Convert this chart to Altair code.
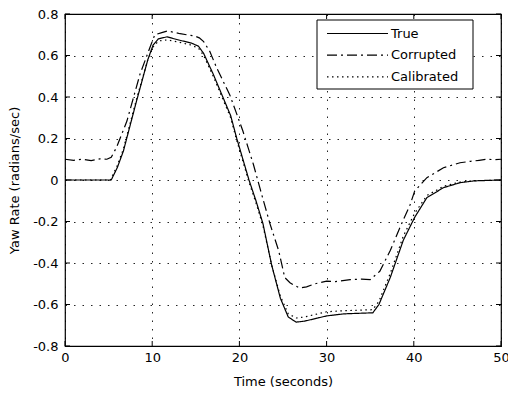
import altair as alt
import pandas as pd

# ---- data ----
true_t = [0, 5.3, 6.0, 6.7, 8.2, 9.5, 10.1, 10.7, 11.7, 13.0, 14.5, 15.3, 15.9, 17.0, 18.1, 19.0,
          19.7, 20.4, 21.1, 21.9, 22.7, 23.7, 24.7, 25.6, 26.5, 27.5, 29.0, 30.0, 32.0, 35.3,
          36.0, 37.3, 38.8, 40.1, 41.5, 43.4, 45.3, 47.0, 50]
true_v = [0, 0, 0.06, 0.14, 0.38, 0.58, 0.65, 0.68, 0.69, 0.675, 0.66, 0.645, 0.61, 0.51, 0.40, 0.31,
          0.20, 0.10, 0.0, -0.10, -0.21, -0.41, -0.57, -0.66, -0.685, -0.68, -0.665, -0.655, -0.645, -0.64,
          -0.60, -0.47, -0.29, -0.18, -0.085, -0.037, -0.013, -0.004, 0]

corr_t = [0, 1, 2, 3, 4, 4.8, 5.3, 5.9, 7.1, 8.6, 9.75, 10.3, 11.1, 11.7, 12.5, 13.2, 13.95, 14.8,
          15.4, 15.9, 16.6, 17.4, 18.9, 20.4, 21.0, 21.6, 22.55, 23.5, 24.5, 25.2, 25.8, 26.2, 26.9,
          27.7, 28.7, 30, 31, 32.7, 34, 35, 36.1, 37.3, 38.4, 39.6, 40.1, 41.5, 43.4, 45.3, 46.5,
          47.5, 48.4, 49.2, 50]
corr_v = [0.10, 0.095, 0.10, 0.093, 0.102, 0.10, 0.11, 0.156, 0.284, 0.51, 0.64, 0.70, 0.71, 0.718,
          0.712, 0.705, 0.70, 0.695, 0.685, 0.667, 0.62, 0.54, 0.41, 0.236, 0.156, 0.076, -0.069,
          -0.21, -0.34, -0.47, -0.495, -0.505, -0.52, -0.515, -0.50, -0.487, -0.49, -0.48, -0.478,
          -0.48, -0.44, -0.34, -0.23, -0.117, -0.053, 0.011, 0.059, 0.083, 0.09, 0.095, 0.1, 0.098, 0.1]

cal_t = [0, 5.2, 6.0, 6.7, 8.2, 9.5, 10.1, 10.7, 11.7, 13.0, 14.5, 15.3, 15.9, 17.0, 18.1, 19.0,
         19.7, 20.4, 21.1, 21.9, 22.7, 23.7, 24.7, 25.6, 26.5, 27.5, 29.0, 30.0, 32.0, 35.3,
         36.0, 37.3, 38.8, 40.1, 41.5, 43.4, 45.3, 47.0, 50]
cal_v = [0, 0, 0.07, 0.15, 0.39, 0.58, 0.64, 0.67, 0.675, 0.665, 0.65, 0.635, 0.60, 0.50, 0.39, 0.30,
         0.19, 0.09, -0.01, -0.11, -0.22, -0.41, -0.56, -0.645, -0.665, -0.66, -0.645, -0.635, -0.63, -0.625,
         -0.585, -0.45, -0.27, -0.16, -0.075, -0.03, -0.01, -0.003, 0]

series_names = ["True", "Corrupted", "Calibrated"]
x_ticks = [0, 10, 20, 30, 40, 50]
y_ticks = [-0.8, -0.6, -0.4, -0.2, 0, 0.2, 0.4, 0.6, 0.8]

rows = []
for name, ts, vs in zip(series_names, [true_t, corr_t, cal_t], [true_v, corr_v, cal_v]):
    for i, (t, v) in enumerate(zip(ts, vs)):
        rows.append({"series": name, "t": t, "v": v, "order": i})
df = pd.DataFrame(rows)

W, H = 436, 332
FONT = "DejaVu Sans"

xscale = alt.Scale(domain=[0, 50], nice=False)
yscale = alt.Scale(domain=[-0.8, 0.8], nice=False)
dash_scale = alt.Scale(domain=series_names, range=[[1, 0], [10, 4, 2, 4], [1.5, 3.5]])

lines = alt.Chart(df).mark_line(color="black", strokeWidth=1.2).encode(
    x=alt.X("t:Q", scale=xscale,
            axis=alt.Axis(values=x_ticks, title="Time (seconds)", grid=True,
                          gridColor="black", gridDash=[1.5, 7], gridOpacity=0.85, gridWidth=1,
                          tickSize=0, labelPadding=5, domain=False, labelFont=FONT, labelFontSize=13,
                          labelColor="black", titleFont=FONT, titleFontSize=13, titleFontWeight="normal",
                          titleColor="black", titlePadding=11, labelFlush=False)),
    y=alt.Y("v:Q", scale=yscale,
            axis=alt.Axis(values=y_ticks, title="Yaw Rate (radians/sec)", grid=True,
                          gridColor="black", gridDash=[1.5, 7], gridOpacity=0.85, gridWidth=1,
                          tickSize=0, labelPadding=7, domain=False, labelFont=FONT, labelFontSize=13,
                          labelColor="black", titleFont=FONT, titleFontSize=13, titleFontWeight="normal",
                          titleColor="black", titlePadding=11, labelFlush=False,
                          labelExpr="toString(round(datum.value*10)/10)")),
    strokeDash=alt.StrokeDash("series:N", scale=dash_scale, legend=None),
    order="order:Q",
)

# inward ticks on all four sides (MATLAB box style)
tick_x = pd.DataFrame({"tx": x_ticks})
tick_y = pd.DataFrame({"ty": y_ticks})
tk = dict(color="black", strokeWidth=1)
bx = alt.Chart(tick_x).mark_rule(**tk).encode(x=alt.X("tx:Q", scale=xscale), y=alt.value(H), y2=alt.value(H - 5))
tx = alt.Chart(tick_x).mark_rule(**tk).encode(x=alt.X("tx:Q", scale=xscale), y=alt.value(0), y2=alt.value(5))
ly = alt.Chart(tick_y).mark_rule(**tk).encode(y=alt.Y("ty:Q", scale=yscale), x=alt.value(0), x2=alt.value(5))
ry = alt.Chart(tick_y).mark_rule(**tk).encode(y=alt.Y("ty:Q", scale=yscale), x=alt.value(W), x2=alt.value(W - 5))

# legend box (MATLAB style: sample line on the left, label on the right)
leg_df = pd.DataFrame({"series": series_names, "row": list(range(len(series_names)))})
LX0, LX1, LY0, LY1 = 252, 408, 6, 75
box = alt.Chart(pd.DataFrame({"k": [0]})).mark_rect(fill="white", stroke="black", strokeWidth=1).encode(
    x=alt.value(LX0), x2=alt.value(LX1), y=alt.value(LY0), y2=alt.value(LY1))
leg_base = alt.Chart(leg_df).transform_calculate(yp="19.5 + 21.7 * datum.row")
leg_lines = leg_base.mark_rule(color="black", strokeWidth=1.2).encode(
    x=alt.value(262), x2=alt.value(323),
    y=alt.Y("yp:Q", scale=None),
    strokeDash=alt.StrokeDash("series:N", scale=dash_scale, legend=None))
leg_text = leg_base.mark_text(align="left", baseline="middle", font=FONT, fontSize=13, color="black").encode(
    x=alt.value(326), y=alt.Y("yp:Q", scale=None), text="series:N")

chart = alt.layer(lines, bx, tx, ly, ry, box, leg_lines, leg_text).properties(
    width=W, height=H,
    autosize=alt.AutoSizeParams(type="none"),
    padding={"left": 65, "top": 14, "right": 7, "bottom": 48},
    background="white",
).configure_view(stroke="black", strokeWidth=1.2)

chart.save("out.html", embed_options={"renderer": "svg", "actions": False})
